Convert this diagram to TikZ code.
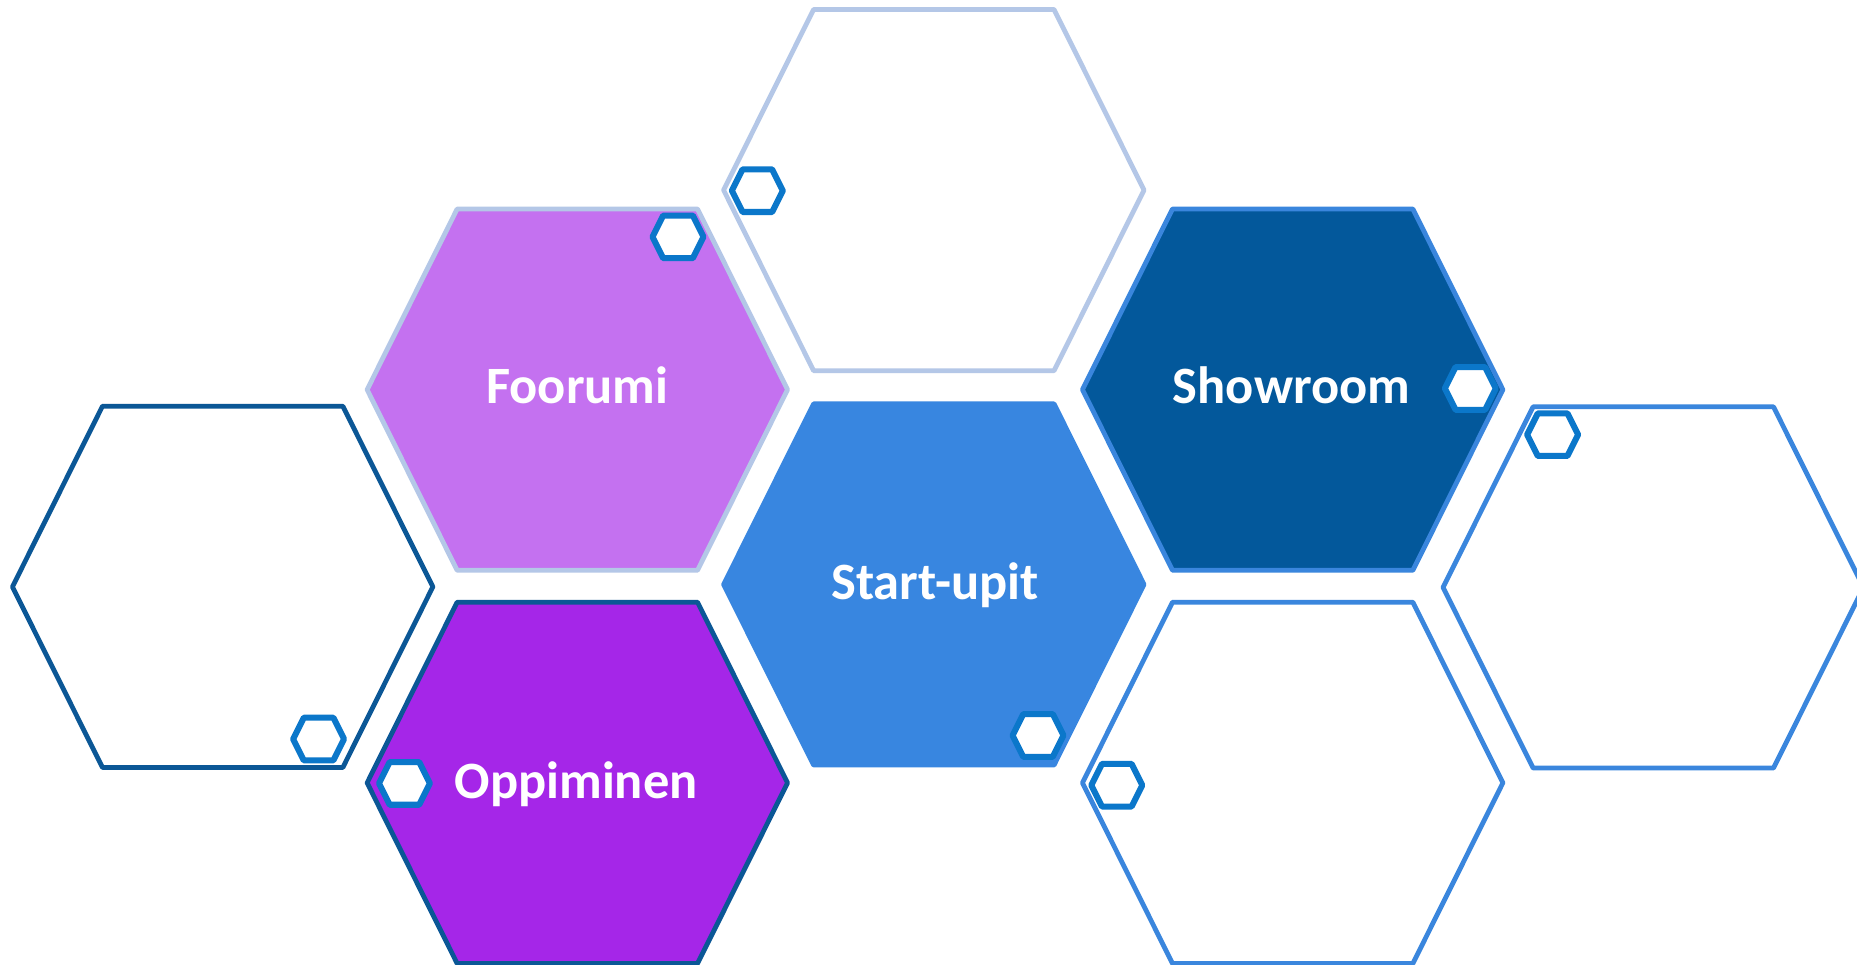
\documentclass[tikz,border=0pt]{standalone}
\usepackage{fontspec}
\setmainfont{Carlito}

\definecolor{palerim}{HTML}{B4C7E7}
\definecolor{lilac}{HTML}{C471F0}
\definecolor{violet}{HTML}{A526E8}
\definecolor{navy}{HTML}{03589B}
\definecolor{skyblue}{HTML}{3886E0}
\definecolor{deeprim}{HTML}{0B5796}
\definecolor{lightrim}{HTML}{3A86DD}
\definecolor{smallrim}{HTML}{0B77CA}

% big and small hexagon outlines round a named centre
\newcommand{\bighex}[2]{\path[#2] (#1) ++(-177.5,0) -- ++(76,152.5) -- ++(203,0) -- ++(76,-152.5) -- ++(-76,-152.5) -- ++(-203,0) -- cycle;}
\newcommand{\smallhex}[1]{\path[smallstyle] (#1) ++(-21.5,0) -- ++(9,18) -- ++(25,0) -- ++(9,-18) -- ++(-9,-18) -- ++(-25,0) -- cycle;}

\tikzset{
  hexline/.style={line width=1.15pt, line join=round},
  smallstyle/.style={draw=smallrim, fill=white, line width=1.45pt, line join=round},
  hextext/.style={anchor=base, text=white, font=\fontsize{12.6}{14}\selectfont\bfseries, inner sep=0pt}
}

\begin{document}
\begin{tikzpicture}[x=0.01cm, y=-0.01cm]
\useasboundingbox[fill=white] (0,0) rectangle (1568,814);

\coordinate (htop) at (788.5,160.5);
\coordinate (hfoor) at (487.5,329);
\coordinate (hshow) at (1091.5,329);
\coordinate (hleft) at (188,495.5);
\coordinate (hstart) at (788.5,493.5);
\coordinate (hright) at (1396,496);
\coordinate (hoppi) at (487.5,661);
\coordinate (hlow) at (1091.5,661);

\bighex{htop}{hexline, draw=palerim, fill=white}
\bighex{hfoor}{hexline, draw=palerim, fill=lilac}
\bighex{hshow}{hexline, draw=lightrim, fill=navy}
\bighex{hleft}{hexline, draw=deeprim, fill=white}
\bighex{hstart}{hexline, draw=skyblue, fill=skyblue}
\bighex{hright}{hexline, draw=lightrim, fill=white}
\bighex{hoppi}{hexline, draw=deeprim, fill=violet}
\bighex{hlow}{hexline, draw=lightrim, fill=white}

\coordinate (s1) at (639.5,161);
\coordinate (s2) at (572.5,200);
\coordinate (s3) at (1241.5,328);
\coordinate (s4) at (1311,367);
\coordinate (s5) at (269,624);
\coordinate (s6) at (876.5,621);
\coordinate (s7) at (341.5,661.5);
\coordinate (s8) at (943,663);
\foreach \s in {s1,s2,s3,s4,s5,s6,s7,s8} {\smallhex{\s}}

\node[hextext] (foorumi) at (487.5,341) {Foorumi};
\node[hextext] (showroom) at (1090.5,340.5) {Showroom};
\node[hextext] (startupit) at (789.5,506.5) {Start-upit};
\node[hextext] (oppiminen) at (486.5,674) {Oppiminen};

\end{tikzpicture}
\end{document}
